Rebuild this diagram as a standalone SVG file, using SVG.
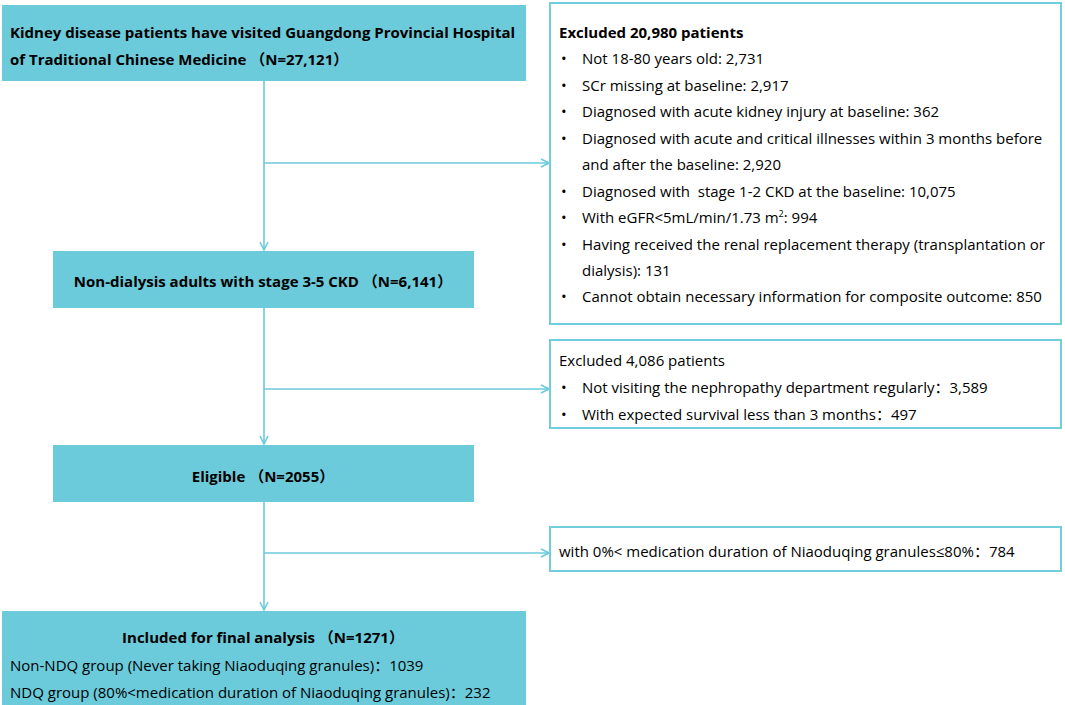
<svg xmlns="http://www.w3.org/2000/svg" width="1065" height="705" viewBox="0 0 1065 705">
<defs>
<style>
.node{fill:#6BCBDB;}
.ex{fill:#fff;stroke:#72CEDC;stroke-width:2;}
.ln{fill:none;stroke:#6CCBDB;stroke-width:1.6;}
text{font-family:"Open Sans","Noto Sans CJK SC",sans-serif;fill:#000;white-space:pre;}
.b{font-weight:bold;font-size:15px;}
.r{font-size:15px;}
</style>
<marker id="ah" viewBox="0 0 10 10" refX="9" refY="5" markerWidth="10" markerHeight="10" markerUnits="userSpaceOnUse" orient="auto">
<path d="M1,1 L9,5 L1,9" fill="none" stroke="#6CCBDB" stroke-width="1.6"/>
</marker>
</defs>
<rect width="1065" height="705" fill="#fff"/>
<g id="connectors">
<line class="ln" x1="264" y1="81" x2="264" y2="250" marker-end="url(#ah)"/>
<line class="ln" x1="264" y1="163" x2="549" y2="163" marker-end="url(#ah)"/>
<line class="ln" x1="264" y1="308" x2="264" y2="444" marker-end="url(#ah)"/>
<line class="ln" x1="264" y1="389" x2="549" y2="389" marker-end="url(#ah)"/>
<line class="ln" x1="264" y1="502" x2="264" y2="610" marker-end="url(#ah)"/>
<line class="ln" x1="264" y1="553" x2="549" y2="553" marker-end="url(#ah)"/>
</g>
<g id="n1">
<rect class="node" x="2" y="5" width="524" height="76"/>
<text class="b" x="10" y="38">Kidney disease patients have visited Guangdong Provincial Hospital</text>
<text class="b" x="10" y="65">of Traditional Chinese Medicine （N=27,121）</text>
</g>
<g id="ex1">
<rect class="ex" x="550" y="3" width="511" height="321"/>
<text class="b" x="559" y="38">Excluded 20,980 patients</text>
<g class="r">
<text x="561" y="64">•</text><text x="582" y="64">Not 18-80 years old: 2,731</text>
<text x="561" y="91">•</text><text x="582" y="91">SCr missing at baseline: 2,917</text>
<text x="561" y="117">•</text><text x="582" y="117">Diagnosed with acute kidney injury at baseline: 362</text>
<text x="561" y="144">•</text><text x="582" y="144">Diagnosed with acute and critical illnesses within 3 months before</text>
<text x="582" y="170">and after the baseline: 2,920</text>
<text x="561" y="197">•</text><text x="582" y="197">Diagnosed with  stage 1-2 CKD at the baseline: 10,075</text>
<text x="561" y="223">•</text><text x="582" y="223">With eGFR&lt;5mL/min/1.73 m<tspan font-size="9" dy="-6">2</tspan><tspan dy="6">: 994</tspan></text>
<text x="561" y="250">•</text><text x="582" y="250">Having received the renal replacement therapy (transplantation or</text>
<text x="582" y="276">dialysis): 131</text>
<text x="561" y="302">•</text><text x="582" y="302">Cannot obtain necessary information for composite outcome: 850</text>
</g>
</g>
<g id="n2">
<rect class="node" x="53" y="251" width="421" height="57"/>
<text class="b" x="263" y="287" text-anchor="middle">Non-dialysis adults with stage 3-5 CKD （N=6,141）</text>
</g>
<g id="ex2">
<rect class="ex" x="550" y="340" width="511" height="88"/>
<g class="r">
<text x="559" y="366">Excluded 4,086 patients</text>
<text x="561" y="393">•</text><text x="582" y="393">Not visiting the nephropathy department regularly：3,589</text>
<text x="561" y="420">•</text><text x="582" y="420">With expected survival less than 3 months：497</text>
</g>
</g>
<g id="n3">
<rect class="node" x="53" y="445" width="421" height="57"/>
<text class="b" x="263" y="482" text-anchor="middle">Eligible （N=2055）</text>
</g>
<g id="ex3">
<rect class="ex" x="550" y="527" width="511" height="44"/>
<text class="r" x="559" y="557">with 0%&lt; medication duration of Niaoduqing granules≤80%：784</text>
</g>
<g id="n4">
<rect class="node" x="2" y="611" width="524" height="94"/>
<text class="b" x="263" y="643" text-anchor="middle">Included for final analysis （N=1271）</text>
<text class="r" x="10" y="671">Non-NDQ group (Never taking Niaoduqing granules)：1039</text>
<text class="r" x="10" y="698">NDQ group (80%&lt;medication duration of Niaoduqing granules)：232</text>
</g>
</svg>
